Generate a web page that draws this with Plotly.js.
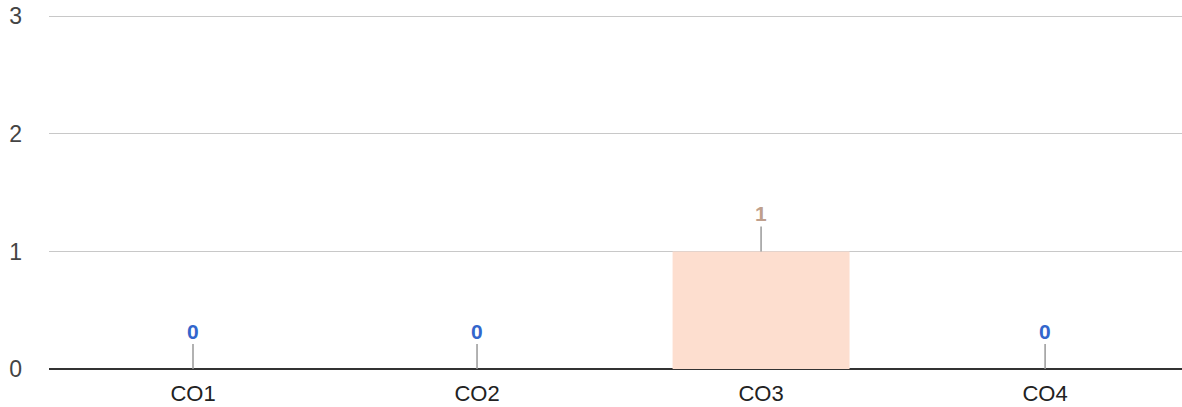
<!DOCTYPE html>
<html><head><meta charset="utf-8">
<script src="https://cdn.plot.ly/plotly-3.0.1.min.js"></script>
<style>html,body{margin:0;padding:0;background:#fff}#chart{width:1182px;height:407px}</style>
</head><body><div id="chart"></div>
<script>
const categories = ['CO1','CO2','CO3','CO4'];
const values = [0, 0, 1, 0];
const yTicks = [0, 1, 2, 3];

const barColor = '#fddecf';
const labelColors = values.map(v => v > 0 ? '#bf9f8c' : '#3366cc');

const trace = {
  type: 'bar', x: categories, y: values,
  marker: {color: barColor, line: {width: 0}},
  hoverinfo: 'none'
};

const annotations = categories.map((c, i) => ({
  x: c, y: values[i], xref: 'x', yref: 'y',
  text: '<b>' + values[i] + '</b>',
  showarrow: true, arrowhead: 0, arrowwidth: 1.5, arrowcolor: '#999999',
  ax: 0, ay: -38, standoff: 0,
  font: {family: 'Liberation Sans, Arial, sans-serif', size: 21, color: labelColors[i]}
}));

const layout = {
  width: 1182, height: 407,
  margin: {l: 49, r: 0, t: 14, b: 38},
  paper_bgcolor: '#fff', plot_bgcolor: '#fff',
  font: {family: 'Liberation Sans, Arial, sans-serif', size: 22, color: '#333'},
  bargap: 0.377,
  showlegend: false,
  xaxis: {
    range: [-0.507, 3.482],
    showgrid: false, showline: false, zeroline: false, ticks: '',
    ticklabelstandoff: 9,
    tickfont: {size: 22, color: '#222'}
  },
  yaxis: {
    range: [0, 3.02], tickvals: yTicks, ticktext: yTicks.map(String),
    showgrid: true, gridcolor: '#c8c8c8', gridwidth: 1,
    zeroline: true, zerolinecolor: '#333333', zerolinewidth: 1.7,
    showline: false, ticks: '', ticklabelstandoff: 26,
    tickfont: {size: 23, color: '#444'}
  },
  annotations: annotations
};

Plotly.newPlot('chart', [trace], layout, {displayModeBar: false, staticPlot: true});
</script>
</body></html>
